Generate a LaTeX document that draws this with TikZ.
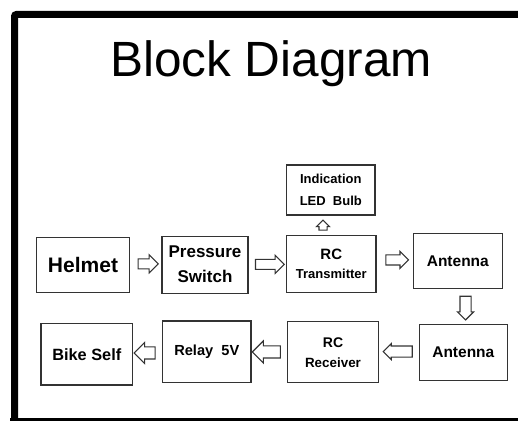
\documentclass[tikz,border=0pt]{standalone}
\usepackage{fontspec}
\setmainfont{Liberation Sans}
\usetikzlibrary{shapes.arrows,calc}
\definecolor{boxc}{HTML}{333333}
\begin{document}
\begin{tikzpicture}[x=1pt,y=-1pt,
 blk/.style={draw=boxc, line width=1.2pt, align=center, inner sep=0pt, text=black},
 harrow/.style n args={3}{single arrow, draw=boxc, line width=1.1pt, inner xsep=0pt, inner ysep=#1, single arrow head extend=#2, minimum height=#3, anchor=center}]
\useasboundingbox (0,0) rectangle (518,420);
\clip (0,0) rectangle (518,420);
\draw[line width=7pt, rounded corners=2pt] (14.5,430) -- (14.5,14.5) -- (530,14.5);
\draw[line width=7pt] (10,421) -- (530,421);
\node[font=\fontsize{49.5}{58}\selectfont, anchor=base] (title) at (271,76.7) {Block Diagram};
% top row
\node[blk, minimum width=92.6pt, minimum height=54.6pt, font=\bfseries\fontsize{21}{25}\selectfont] (helmet) at (83,265) {Helmet};
\node[blk, minimum width=86pt, minimum height=57pt, font=\bfseries\fontsize{17}{25}\selectfont] (pressure) at (205,264.7) {Pressure\\Switch};
\node[blk, minimum width=88.3pt, minimum height=50pt, font=\bfseries\fontsize{13}{22}\selectfont] (indic) at (330.8,190) {Indication\\LED~~Bulb};
\node[blk, minimum width=89.3pt, minimum height=57.4pt, font=\bfseries\fontsize{13}{19}\selectfont] (rctx) at (331.3,264) {\fontsize{15}{19}\selectfont RC\\Transmitter};
\node[blk, minimum width=89pt, minimum height=55pt, font=\bfseries\fontsize{15.5}{19}\selectfont] (ant1) at (457.8,260.8) {Antenna};
% bottom row
\node[blk, minimum width=88pt, minimum height=56.4pt, font=\bfseries\fontsize{15.5}{19}\selectfont] (ant2) at (463.3,352.5) {Antenna};
\node[blk, minimum width=90.6pt, minimum height=61pt, font=\bfseries\fontsize{13.4}{20}\selectfont] (rcrx) at (333,352.2) {\fontsize{14}{20}\selectfont RC\\Receiver};
\node[blk, minimum width=88.3pt, minimum height=61.3pt, font=\bfseries\fontsize{14.6}{18}\selectfont] (relay) at (206.8,351.7) {Relay~~5V};
\node[blk, minimum width=91.7pt, minimum height=61.7pt, font=\bfseries\fontsize{16.3}{20}\selectfont] (bike) at (86.8,354.2) {Bike~Self};
% arrows
\node[harrow={4.5pt}{4pt}{20pt}] (a1) at ($(helmet.east)!0.5!(pressure.west)+(0,-1)$) {};
\node[harrow={4.5pt}{4pt}{28.7pt}] (a2) at ($(pressure.east)!0.5!(rctx.west)$) {};
\node[harrow={3.5pt}{2.5pt}{10pt}, rotate=90] (a3) at ($(rctx.north)!0.5!(indic.south)+(-8,2)$) {};
\node[harrow={4.5pt}{3.5pt}{22.7pt}] (a4) at ($(rctx.east)!0.5!(ant1.west)+(0,-2.5)$) {};
\node[harrow={5pt}{2.5pt}{23.7pt}, rotate=-90] (a5) at ($(ant1.south)!0.5!(ant2.north)+(5,-1)$) {};
\node[harrow={5pt}{2.5pt}{29pt}, rotate=180] (a6) at ($(ant2.west)!0.5!(rcrx.east)+(1.7,-0.8)$) {};
\node[harrow={5.5pt}{5pt}{28pt}, rotate=180] (a7) at ($(rcrx.west)!0.5!(relay.east)$) {};
\node[harrow={5.5pt}{4.5pt}{21pt}, rotate=180] (a8) at ($(relay.west)!0.5!(bike.east)$) {};
\end{tikzpicture}
\end{document}
